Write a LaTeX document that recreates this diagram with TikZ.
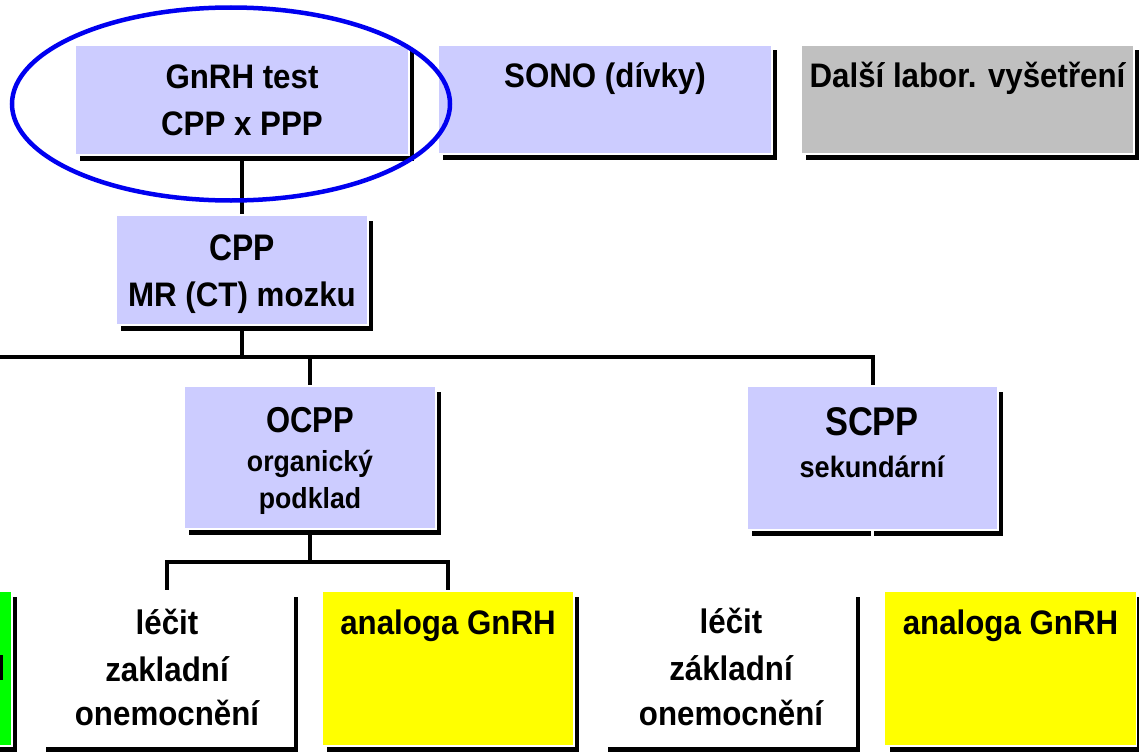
\documentclass[tikz,border=0pt]{standalone}
\usepackage{fontspec}
\setmainfont{Liberation Sans}
\newfontfamily\fA[FakeStretch=0.92]{Liberation Sans}
\newfontfamily\fB[FakeStretch=0.86]{Liberation Sans}
\usetikzlibrary{shapes.geometric,shadows,backgrounds}
\definecolor{lav}{RGB}{204,204,255}
\definecolor{greybox}{RGB}{192,192,192}
\definecolor{yel}{RGB}{255,255,0}
\definecolor{grn}{RGB}{0,255,0}
\definecolor{ovalblue}{RGB}{0,0,240}
\begin{document}
\begin{tikzpicture}[x=1pt,y=-1pt,
  box/.style={rectangle, draw=white, line width=1.2pt, inner sep=0pt, outer sep=0pt,
    drop shadow={shadow xshift=5pt, shadow yshift=-5.5pt, fill=black, opacity=1}},
  conn/.style={draw=black, line width=4pt},
  lbl/.style={anchor=base, inner sep=0pt, font=\fA\bfseries\fontsize{34}{40}\selectfont},
  big/.style={anchor=base, inner sep=0pt, font=\fB\bfseries\fontsize{#1}{#1}\selectfont},
  small/.style={anchor=base, inner sep=0pt, font=\fA\bfseries\fontsize{#1}{#1}\selectfont}]
\useasboundingbox (0,0) rectangle (1139,752);

% boxes
\node[box, fill=lav, minimum width=334pt, minimum height=110pt] (gnrh) at (242,100) {};
\node[box, fill=lav, minimum width=334pt, minimum height=109pt] (sono) at (605,99.5) {};
\node[box, fill=greybox, minimum width=333pt, minimum height=109pt] (dalsi) at (967.5,99.5) {};
\node[box, fill=lav, minimum width=252pt, minimum height=110pt] (cpp) at (242,270) {};
\node[box, fill=lav, minimum width=252pt, minimum height=143pt] (ocpp) at (310,457.5) {};
\node[box, fill=lav, minimum width=251pt, minimum height=144pt] (scpp) at (872.5,458) {};
\node[box, fill=grn, minimum width=252pt, minimum height=155pt] (green) at (-114,668.5) {};
\node[box, fill=white, minimum width=252pt, minimum height=155pt] (lec1) at (167,668.5) {};
\node[box, fill=yel, minimum width=252pt, minimum height=155pt] (yel1) at (448,668.5) {};
\node[box, fill=white, minimum width=252pt, minimum height=155pt] (lec2) at (729,668.5) {};
\node[box, fill=yel, minimum width=252pt, minimum height=155pt] (yel2) at (1010.5,668.5) {};

% connectors
\coordinate (busL) at (-10,357);
\coordinate (busR) at (872.5,357);
\coordinate (bus2) at (310,562);
\begin{scope}[on background layer]
\draw[conn] (gnrh.south) -- (cpp.north);
\draw[conn] (cpp.south) -- (cpp.south |- busL);
\draw[conn] (busL) -- (busR) -- (scpp.north);
\draw[conn] (ocpp.north) -- (ocpp.north |- busL);
\draw[conn] (ocpp.south) -- (bus2);
\draw[conn] (lec1.north) |- (bus2) -| (yel1.north);
\end{scope}
\draw[white, line width=3pt] (scpp.south) -- ++(0,9);

% fragment of cropped text in the green box
\fill[black] (0,655) rectangle (2.5,680);

% texts
\node[lbl] (t1) at (242,88) {GnRH test};
\node[lbl] (t2) at (242,135) {CPP x PPP};
\node[lbl] (t3) at (605,87) {SONO (dívky)};
\node[lbl] (t4) at (967.5,87) {Další labor. vyšetření};
\node[big=37] (t5) at (242,260) {CPP};
\node[lbl] (t6) at (242,306) {MR (CT) mozku};
\node[big=36] (t7) at (310,432) {OCPP};
\node[small=29] (t8) at (310,471) {organický};
\node[small=29] (t9) at (310,508) {podklad};
\node[big=40] (t10) at (872,435) {SCPP};
\node[small=29.5] (t11) at (872,477) {sekundární};
\node[lbl] (t12) at (167,634) {léčit};
\node[lbl] (t13) at (167,681) {zakladní};
\node[lbl] (t14) at (167,725) {onemocnění};
\node[lbl] (t15) at (448,634) {analoga GnRH};
\node[lbl] (t16) at (731,633) {léčit};
\node[lbl] (t17) at (731,680) {základní};
\node[lbl] (t18) at (731,725) {onemocnění};
\node[lbl] (t19) at (1010.5,634) {analoga GnRH};

% highlight oval
\node[ellipse, draw=ovalblue, line width=4.5pt, minimum width=438pt, minimum height=193pt, inner sep=0pt] (oval) at (231,104) {};
\end{tikzpicture}
\end{document}
